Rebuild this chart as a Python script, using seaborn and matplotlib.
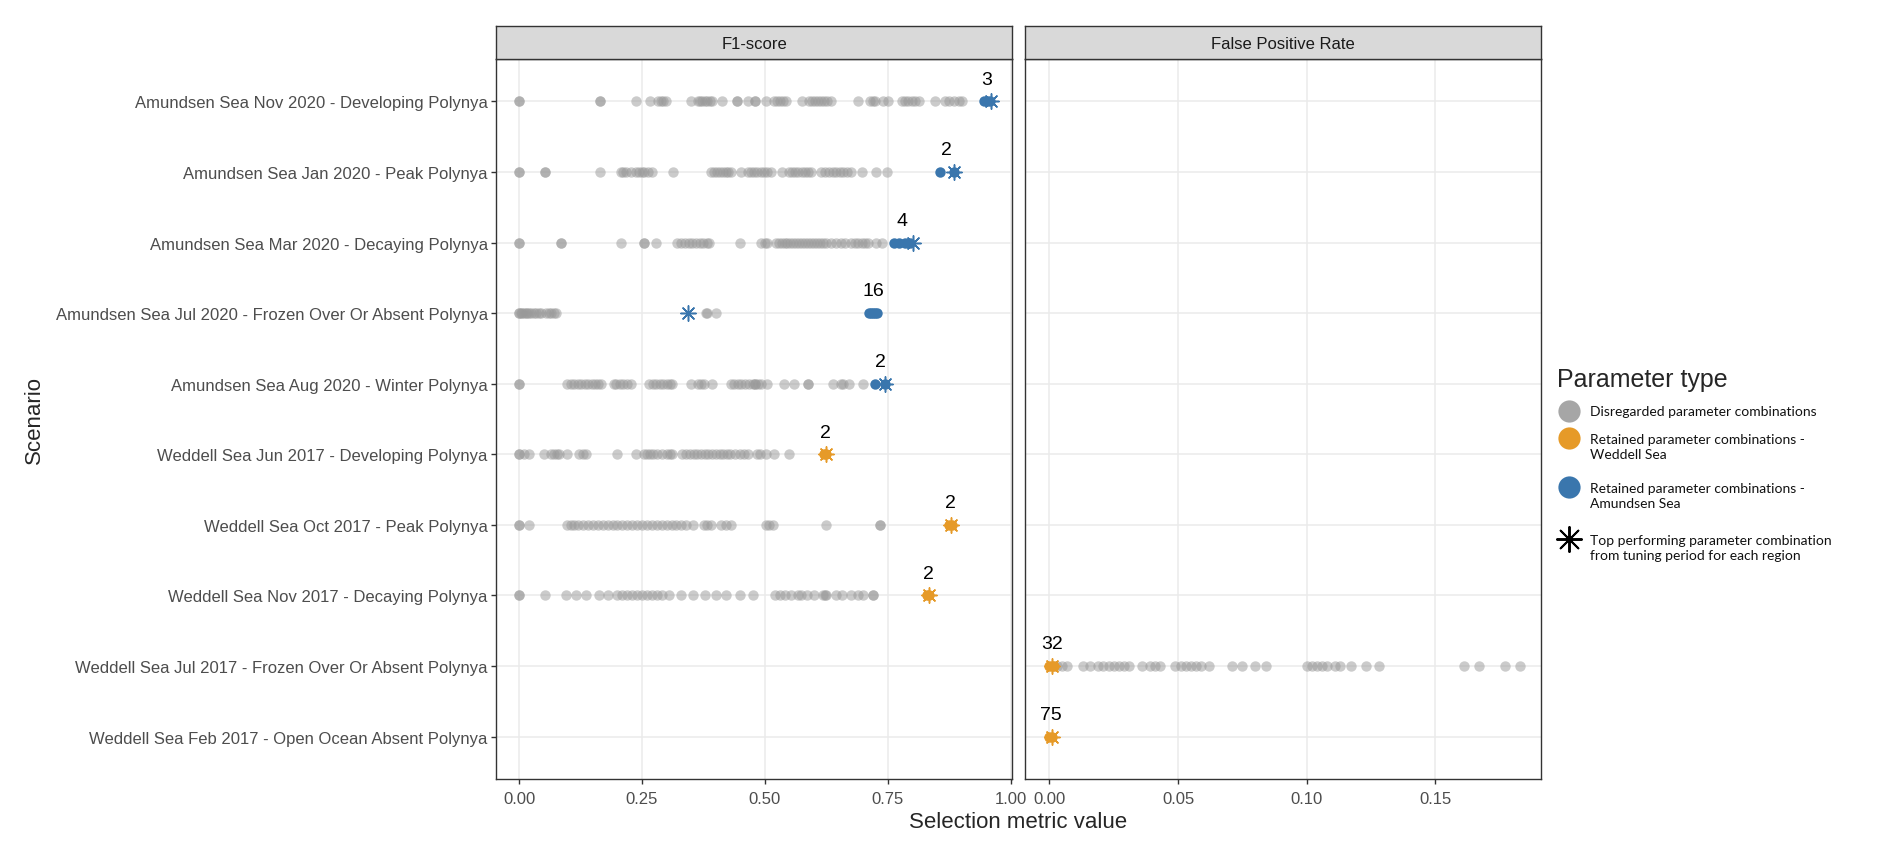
import pandas as pd
import matplotlib
matplotlib.use('Agg')
import matplotlib.pyplot as plt
import seaborn as sns

# Scenarios (top to bottom) and which metric / region each belongs to
scenarios = [
    'Amundsen Sea Nov 2020 - Developing Polynya',
    'Amundsen Sea Jan 2020 - Peak Polynya',
    'Amundsen Sea Mar 2020 - Decaying Polynya',
    'Amundsen Sea Jul 2020 - Frozen Over Or Absent Polynya',
    'Amundsen Sea Aug 2020 - Winter Polynya',
    'Weddell Sea Jun 2017 - Developing Polynya',
    'Weddell Sea Oct 2017 - Peak Polynya',
    'Weddell Sea Nov 2017 - Decaying Polynya',
    'Weddell Sea Jul 2017 - Frozen Over Or Absent Polynya',
    'Weddell Sea Feb 2017 - Open Ocean Absent Polynya',
]
metrics = ['F1-score'] * 8 + ['False Positive Rate'] * 2
regions = ['Amundsen Sea'] * 5 + ['Weddell Sea'] * 5

# Disregarded parameter combinations (grey points)
grey_1 = [0.0, 0.0, 0.165, 0.165, 0.237, 0.267, 0.282, 0.288, 0.292, 0.298, 0.349, 0.363, 0.368,
          0.373, 0.378, 0.383, 0.388, 0.393, 0.412, 0.443, 0.443, 0.466, 0.48, 0.48, 0.502, 0.519,
          0.525, 0.531, 0.537, 0.543, 0.575, 0.590, 0.596, 0.602, 0.608, 0.614, 0.620, 0.627, 0.634,
          0.69, 0.714, 0.72, 0.724, 0.741, 0.751, 0.779, 0.785, 0.792, 0.8, 0.806, 0.813, 0.847,
          0.867, 0.875, 0.885, 0.895, 0.902]
grey_2 = [0.0, 0.0, 0.053, 0.053, 0.165, 0.207, 0.212, 0.218, 0.228, 0.237, 0.243, 0.249, 0.255,
          0.262, 0.271, 0.313, 0.39, 0.396, 0.402, 0.408, 0.414, 0.42, 0.425, 0.431, 0.451, 0.465,
          0.472, 0.478, 0.485, 0.492, 0.498, 0.505, 0.512, 0.535, 0.549, 0.555, 0.562, 0.568, 0.575,
          0.582, 0.588, 0.594, 0.614, 0.622, 0.63, 0.638, 0.645, 0.652, 0.66, 0.667, 0.675, 0.697,
          0.727, 0.748]
grey_3 = [0.0, 0.0, 0.085, 0.085, 0.208, 0.254, 0.254, 0.278, 0.322, 0.33, 0.338, 0.345, 0.352,
          0.36, 0.368, 0.375, 0.382, 0.387, 0.449, 0.492, 0.5, 0.505, 0.522, 0.528, 0.534, 0.54,
          0.546, 0.552, 0.558, 0.564, 0.57, 0.576, 0.582, 0.588, 0.594, 0.6, 0.606, 0.612, 0.618,
          0.625, 0.635, 0.645, 0.655, 0.663, 0.676, 0.683, 0.69, 0.697, 0.704, 0.71, 0.727, 0.738]
grey_4 = [0.0, 0.0, 0.003, 0.006, 0.01, 0.013, 0.016, 0.02, 0.025, 0.03, 0.035, 0.04, 0.045,
          0.055, 0.06, 0.065, 0.07, 0.075, 0.38, 0.383, 0.4]
grey_5 = [0.0, 0.0, 0.098, 0.105, 0.112, 0.12, 0.126, 0.134, 0.14, 0.148, 0.155, 0.16, 0.166,
          0.193, 0.198, 0.205, 0.212, 0.22, 0.227, 0.265, 0.272, 0.279, 0.286, 0.293, 0.3, 0.306,
          0.312, 0.35, 0.363, 0.37, 0.377, 0.393, 0.431, 0.438, 0.445, 0.452, 0.46, 0.468, 0.475,
          0.48, 0.48, 0.486, 0.492, 0.505, 0.539, 0.56, 0.587, 0.587, 0.638, 0.655, 0.658, 0.672, 0.7]
grey_6 = [0.0, 0.0, 0.01, 0.02, 0.051, 0.064, 0.07, 0.076, 0.081, 0.098, 0.122, 0.13, 0.136,
          0.199, 0.237, 0.254, 0.26, 0.266, 0.272, 0.28, 0.29, 0.3, 0.306, 0.312, 0.332, 0.34,
          0.348, 0.355, 0.362, 0.37, 0.378, 0.385, 0.392, 0.4, 0.408, 0.415, 0.422, 0.43, 0.44,
          0.45, 0.458, 0.465, 0.485, 0.49, 0.502, 0.519, 0.55]
grey_7 = [0.0, 0.0, 0.02, 0.098, 0.105, 0.112, 0.119, 0.129, 0.14, 0.15, 0.16, 0.17, 0.18, 0.19,
          0.2, 0.21, 0.22, 0.23, 0.24, 0.25, 0.26, 0.27, 0.28, 0.29, 0.3, 0.31, 0.32, 0.33, 0.34,
          0.353, 0.376, 0.383, 0.39, 0.41, 0.42, 0.431, 0.502, 0.509, 0.516, 0.624, 0.734, 0.734]
grey_8 = [0.0, 0.0, 0.052, 0.096, 0.115, 0.137, 0.162, 0.18, 0.2, 0.21, 0.22, 0.23, 0.24, 0.25,
          0.26, 0.27, 0.28, 0.29, 0.304, 0.33, 0.353, 0.378, 0.4, 0.42, 0.45, 0.475, 0.52, 0.53,
          0.54, 0.553, 0.567, 0.574, 0.585, 0.6, 0.618, 0.622, 0.625, 0.645, 0.656, 0.676, 0.69,
          0.7, 0.72, 0.72]
grey_9 = [0.003, 0.005, 0.007, 0.013, 0.016, 0.019, 0.021, 0.023, 0.025, 0.027, 0.029, 0.031,
          0.036, 0.039, 0.041, 0.043, 0.049, 0.051, 0.053, 0.055, 0.057, 0.059, 0.062, 0.071,
          0.075, 0.08, 0.084, 0.1, 0.102, 0.104, 0.106, 0.108, 0.111, 0.113, 0.117, 0.123, 0.128,
          0.161, 0.167, 0.177, 0.183]
grey_10 = []

# Retained parameter combinations (coloured points)
ret_1 = [0.945, 0.952, 0.958]
ret_2 = [0.856, 0.885]
ret_3 = [0.762, 0.772, 0.785, 0.795]
ret_4 = [0.712, 0.716, 0.72, 0.724, 0.728]
ret_5 = [0.725, 0.745]
ret_6 = [0.62, 0.625]
ret_7 = [0.875, 0.88]
ret_8 = [0.83, 0.835]
ret_9 = [0.0, 0.001, 0.002]
ret_10 = [0.0, 0.001]

# Number of retained combinations written above each cluster
retained_counts = [3, 2, 4, 16, 2, 2, 2, 2, 32, 75]

# Top performing combination from the tuning period
top_values = [0.96, 0.885, 0.802, 0.344, 0.745, 0.625, 0.878, 0.835, 0.001, 0.001]

greys = [grey_1, grey_2, grey_3, grey_4, grey_5, grey_6, grey_7, grey_8, grey_9, grey_10]
rets = [ret_1, ret_2, ret_3, ret_4, ret_5, ret_6, ret_7, ret_8, ret_9, ret_10]

linhas = []
for i, cen in enumerate(scenarios):
    for v in greys[i]:
        linhas.append((cen, metrics[i], regions[i], 'grey', v))
    for v in rets[i]:
        linhas.append((cen, metrics[i], regions[i], 'retained', v))
    linhas.append((cen, metrics[i], regions[i], 'top', top_values[i]))
df = pd.DataFrame(linhas, columns=['scenario', 'metric', 'region', 'kind', 'value'])

cores = {'Weddell Sea': '#E69A28', 'Amundsen Sea': '#3A76AD'}
cinza = '#999999'
asterisco = (8, 2, 0)

sns.set_style('white')
plt.rcParams['font.family'] = ['Liberation Sans', 'DejaVu Sans']

fig = plt.figure(figsize=(18.92, 8.54), dpi=100)

paineis = [
    ('F1-score', 0.2622, (-0.047, 1.003), [0, 0.25, 0.5, 0.75, 1.0]),
    ('False Positive Rate', 0.5418, (-0.0094, 0.191), [0, 0.05, 0.10, 0.15]),
]
largura = 0.2727
base = 0.0867
altura = 0.843

for nome, esq, lims, ticks in paineis:
    ax = fig.add_axes([esq, base, largura, altura])
    sub = df[df['metric'] == nome]

    sns.stripplot(data=sub[sub['kind'] == 'grey'], x='value', y='scenario', order=scenarios,
                  jitter=False, color=cinza, alpha=0.5, size=7.5, linewidth=0, ax=ax, zorder=3)
    for reg, cor in cores.items():
        r = sub[(sub['kind'] == 'retained') & (sub['region'] == reg)]
        if len(r):
            sns.stripplot(data=r, x='value', y='scenario', order=scenarios, jitter=False,
                          color=cor, size=7.5, linewidth=0, ax=ax, zorder=4)
        t = sub[(sub['kind'] == 'top') & (sub['region'] == reg)]
        if len(t):
            sns.stripplot(data=t, x='value', y='scenario', order=scenarios, jitter=False,
                          color=cor, edgecolor=cor, marker=asterisco, size=11, linewidth=1.1,
                          ax=ax, zorder=5)

    # contagem dos retidos acima de cada grupo
    for i, cen in enumerate(scenarios):
        if metrics[i] == nome:
            xm = sum(rets[i]) / len(rets[i])
            ax.text(xm, i - 0.25, str(retained_counts[i]), ha='center', va='baseline',
                    fontsize=14, color='black')

    ax.set_xlim(*lims)
    ax.set_ylim(len(scenarios) - 1 + 0.6, -0.6)
    ax.set_xticks(ticks)
    ax.set_xticklabels([f'{t:.2f}' for t in ticks])
    ax.set_xlabel('')
    ax.set_ylabel('')
    ax.grid(True, color='#EBEBEB', linewidth=1.1, zorder=0)
    ax.set_axisbelow(True)
    for s in ax.spines.values():
        s.set_color('#333333')
        s.set_linewidth(1.0)
    ax.tick_params(axis='both', colors='#333333', labelcolor='#4D4D4D', labelsize=12,
                   length=3.5, width=1.0, pad=2.5, direction='out')
    ax.tick_params(axis='x', bottom=True, pad=5)
    ax.tick_params(axis='y', left=True)
    if nome != 'F1-score':
        ax.tick_params(axis='y', left=False, labelleft=False)

    # faixa do título do painel
    st = fig.add_axes([esq, base + altura, largura, 0.0392])
    st.set_facecolor('#D9D9D9')
    st.set_xticks([])
    st.set_yticks([])
    for s in st.spines.values():
        s.set_color('#333333')
        s.set_linewidth(1.0)
    st.text(0.5, 0.47, nome, ha='center', va='center', fontsize=12, color='#1A1A1A',
            transform=st.transAxes)

fig.text(0.538, 0.037, 'Selection metric value', ha='center', va='center', fontsize=16)
fig.text(0.018, 0.508, 'Scenario', ha='center', va='center', rotation=90, fontsize=16)

# Legenda (desenhada à mão para alinhar o símbolo com a primeira linha)
lg = fig.add_axes([0, 0, 1, 1])
lg.set_xlim(0, 1892)
lg.set_ylim(854, 0)
lg.axis('off')
lg.text(1557, 380, 'Parameter type', ha='left', va='center', fontsize=18)
fonte_leg = ['Lato', 'DejaVu Sans']
itens = [
    ('Disregarded parameter combinations', '#A6A6A6', 'o', 412, 412),
    ('Retained parameter combinations -\nWeddell Sea', cores['Weddell Sea'], 'o', 439, 448),
    ('Retained parameter combinations -\nAmundsen Sea', cores['Amundsen Sea'], 'o', 488, 497),
    ('Top performing parameter combination\nfrom tuning period for each region', 'black', asterisco, 540, 549),
]
for rot, cor, mk, ymk, ytx in itens:
    if mk == 'o':
        lg.scatter([1569], [ymk], s=16 ** 2, color=cor, linewidths=0)
    else:
        lg.scatter([1569], [ymk], s=18 ** 2, marker=mk, color=cor, linewidths=1.4)
    lg.text(1590, ytx, rot, ha='left', va='center', fontsize=10, family=fonte_leg,
            linespacing=1.3, color='#111111')

fig.savefig('out.png', dpi=100)
